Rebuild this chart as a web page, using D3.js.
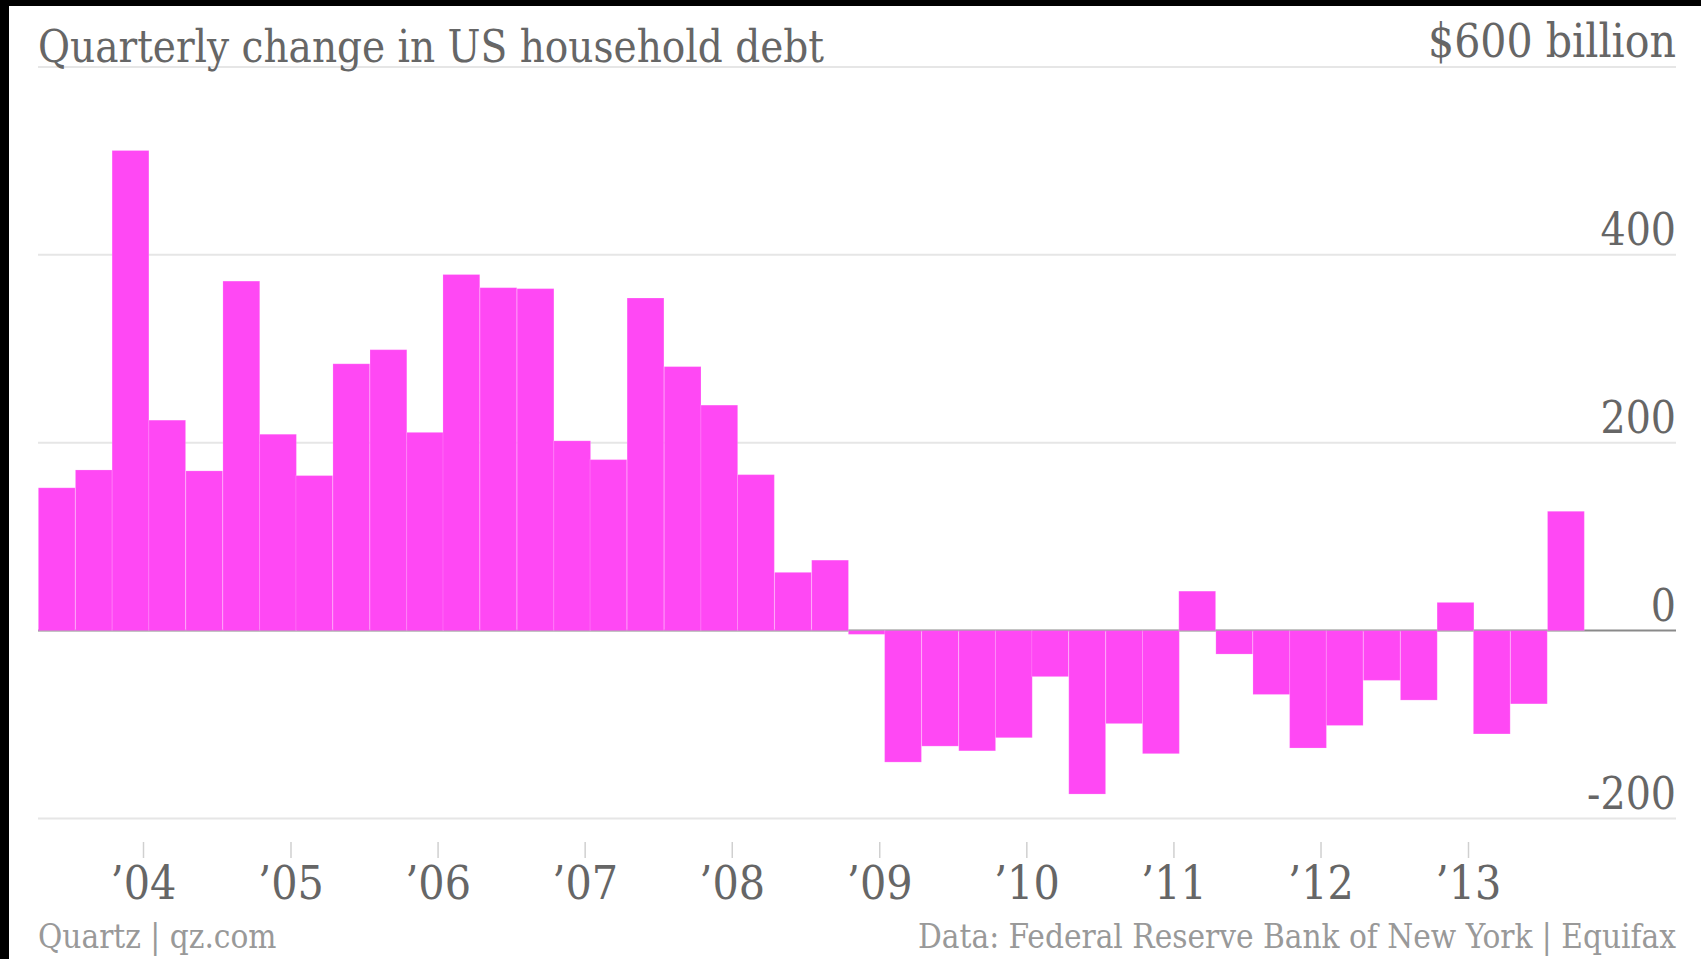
<!DOCTYPE html>
<html>
<head>
<meta charset="utf-8">
<script src="https://cdn.jsdelivr.net/npm/d3@7"></script>
<style>
  html, body { margin: 0; padding: 0; background: #fff; overflow: hidden; }
  text { font-family: "DejaVu Serif Condensed", "DejaVu Serif", serif; font-stretch: condensed; }
</style>
</head>
<body>
<svg id="chart" width="1701" height="959"></svg>
<script>
// Quarterly change in US household debt, $ billion
const quarters = [
  "2003 Q2", "2003 Q3", "2003 Q4",
  "2004 Q1", "2004 Q2", "2004 Q3", "2004 Q4",
  "2005 Q1", "2005 Q2", "2005 Q3", "2005 Q4",
  "2006 Q1", "2006 Q2", "2006 Q3", "2006 Q4",
  "2007 Q1", "2007 Q2", "2007 Q3", "2007 Q4",
  "2008 Q1", "2008 Q2", "2008 Q3", "2008 Q4",
  "2009 Q1", "2009 Q2", "2009 Q3", "2009 Q4",
  "2010 Q1", "2010 Q2", "2010 Q3", "2010 Q4",
  "2011 Q1", "2011 Q2", "2011 Q3", "2011 Q4",
  "2012 Q1", "2012 Q2", "2012 Q3", "2012 Q4",
  "2013 Q1", "2013 Q2", "2013 Q3"
];
const changes = [
  152, 171, 511,
  224, 170, 372, 209,
  165, 284, 299, 211,
  379, 365, 364, 202,
  182, 354, 281, 240,
  166, 62, 75, -4,
  -140, -123, -128, -114,
  -49, -174, -99, -131,
  42, -25, -68, -125,
  -101, -53, -74, 30,
  -110, -78, 127
];
const yTicks = [-200, 0, 200, 400, 600];
const yTickLabels = ["-200", "0", "200", "400", "$600 billion"];
const yearTicks = [2004, 2005, 2006, 2007, 2008, 2009, 2010, 2011, 2012, 2013];
const yearLabels = ["’04", "’05", "’06", "’07", "’08", "’09", "’10", "’11", "’12", "’13"];

const titleText = "Quarterly change in US household debt";
const creditText = "Quartz | qz.com";
const sourceText = "Data: Federal Reserve Bank of New York | Equifax";

// each quarter is plotted at the first day of its final month
const parseQuarter = q => {
  const [yr, qq] = q.split(" Q");
  return new Date(+yr, (+qq) * 3 - 1, 1);
};
const data = quarters.map((q, i) => ({ date: parseQuarter(q), value: changes[i] }));

const svg = d3.select("#chart");
const W = 1701, H = 959;
const left = 38, right = 1676;

const x = d3.scaleTime()
  .domain([new Date(2004, 0, 1), new Date(2013, 0, 1)])
  .range([143, 1468]);
const y = d3.scaleLinear().domain([-200, 600]).range([818.5, 66.9]);

const step = (x(data[data.length - 1].date) - x(data[0].date)) / (data.length - 1);

// background
svg.append("rect").attr("width", W).attr("height", H).attr("fill", "#fff");

// gridlines
svg.append("g").selectAll("line")
  .data(yTicks.filter(t => t !== 0))
  .join("line")
  .attr("x1", left).attr("x2", right)
  .attr("y1", d => y(d)).attr("y2", d => y(d))
  .attr("stroke", "#e6e6e6").attr("stroke-width", 2);

// zero line
svg.append("line")
  .attr("x1", left).attr("x2", right)
  .attr("y1", y(0)).attr("y2", y(0))
  .attr("stroke", "#8a8a8a").attr("stroke-width", 2);

// bars
svg.append("g").selectAll("rect")
  .data(data)
  .join("rect")
  .attr("x", d => x(d.date) - step / 2)
  .attr("width", step)
  .attr("y", d => y(Math.max(0, d.value)))
  .attr("height", d => Math.abs(y(d.value) - y(0)))
  .attr("fill", "#ff48f4")
  .attr("stroke", "rgba(255,255,255,0.18)")
  .attr("stroke-width", 1);

// y labels (right aligned, sitting above their gridlines)
svg.append("g").selectAll("text")
  .data(yTicks)
  .join("text")
  .attr("x", right)
  .attr("y", d => y(d) - 10)
  .attr("text-anchor", "end")
  .attr("font-size", d => d === 600 ? 46 : 44)
  .attr("fill", "#666")
  .each(function (d) {
    if (d === 600) d3.select(this).attr("textLength", 248).attr("lengthAdjust", "spacingAndGlyphs");
  })
  .text((d, i) => yTickLabels[i]);

// x axis: year ticks
const xAxis = d3.axisBottom(x)
  .tickValues(yearTicks.map(yr => new Date(yr, 0, 1)))
  .tickSize(16)
  .tickPadding(8)
  .tickFormat((d, i) => yearLabels[i]);
const gx = svg.append("g").attr("transform", "translate(0,842)").call(xAxis);
gx.select(".domain").remove();
gx.selectAll(".tick line").attr("stroke", "#d0d0d0").attr("stroke-width", 1.5);
gx.selectAll(".tick text")
  .attr("font-size", 46)
  .attr("fill", "#666")
  .attr("dy", "0.72em")
  .style("font-family", "\"DejaVu Serif Condensed\", \"DejaVu Serif\", serif");

// title
svg.append("text")
  .attr("x", left).attr("y", 62)
  .attr("font-size", 45).attr("fill", "#666")
  .attr("textLength", 786).attr("lengthAdjust", "spacingAndGlyphs")
  .text(titleText);

// footer
svg.append("text")
  .attr("x", left).attr("y", 948)
  .attr("font-size", 33).attr("fill", "#999")
  .text(creditText);
svg.append("text")
  .attr("x", right).attr("y", 948)
  .attr("text-anchor", "end")
  .attr("font-size", 33).attr("fill", "#999")
  .text(sourceText);

// dark border along the top and left edges
svg.append("rect").attr("x", 0).attr("y", 0).attr("width", W).attr("height", 6).attr("fill", "#000");
svg.append("rect").attr("x", 0).attr("y", 0).attr("width", 9).attr("height", H).attr("fill", "#000");
</script>
</body>
</html>
